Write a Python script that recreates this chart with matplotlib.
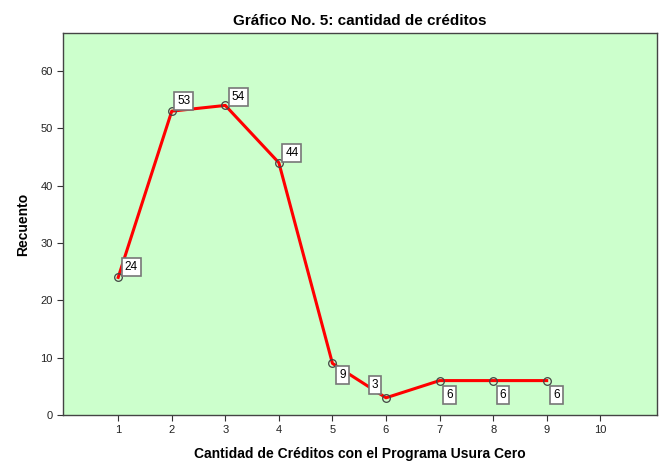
import matplotlib
matplotlib.use("Agg")
import matplotlib.pyplot as plt

creditos = [1, 2, 3, 4, 5, 6, 7, 8, 9]
recuento = [24, 53, 54, 44, 9, 3, 6, 6, 6]
x_ticks = [1, 2, 3, 4, 5, 6, 7, 8, 9, 10]
y_ticks = [0, 10, 20, 30, 40, 50, 60]
# label placement per point: (dx, dy) in pixels
offsets = [(13, 10), (12, 10), (13, 8), (13, 10), (10, -12), (-11, 13), (10, -14), (10, -14), (10, -14)]

plt.rcParams['font.family'] = ['Liberation Sans', 'DejaVu Sans']
fig = plt.figure(figsize=(6.64, 4.61), dpi=100)
ax = fig.add_axes([0.0949, 0.0998, 0.8946, 0.8282])
ax.set_facecolor('#CCFFCC')
ax.plot(creditos, recuento, color='#FF0000', lw=2.2, zorder=2)
ax.plot(creditos, recuento, ls='none', marker='o', ms=5.5, mfc='none', mec='#444444', mew=0.9, zorder=3)
for x, y, (dx, dy) in zip(creditos, recuento, offsets):
    ax.annotate(str(y), (x, y), xytext=(dx * 0.72, dy * 0.72), textcoords='offset points',
                ha='center', va='center', fontsize=8.5,
                bbox=dict(boxstyle='square,pad=0.25', fc='white', ec='#777777', lw=1.2), zorder=4)
ax.set_xlim(-0.03, 11.06)
ax.set_ylim(0, 66.6)
ax.set_xticks(x_ticks)
ax.set_yticks(y_ticks)
ax.tick_params(labelsize=8, direction='out', length=4, color='#333333', labelcolor='#222222')
for s in ax.spines.values():
    s.set_color('#444444')
    s.set_linewidth(1.0)
ax.set_xlabel('Cantidad de Créditos con el Programa Usura Cero', fontsize=10, fontweight='bold', labelpad=8)
ax.set_ylabel('Recuento', fontsize=10, fontweight='bold', labelpad=7)
ax.set_title('Gráfico No. 5: cantidad de créditos', fontsize=11, fontweight='bold', pad=6)
fig.savefig('out.png', dpi=100)
